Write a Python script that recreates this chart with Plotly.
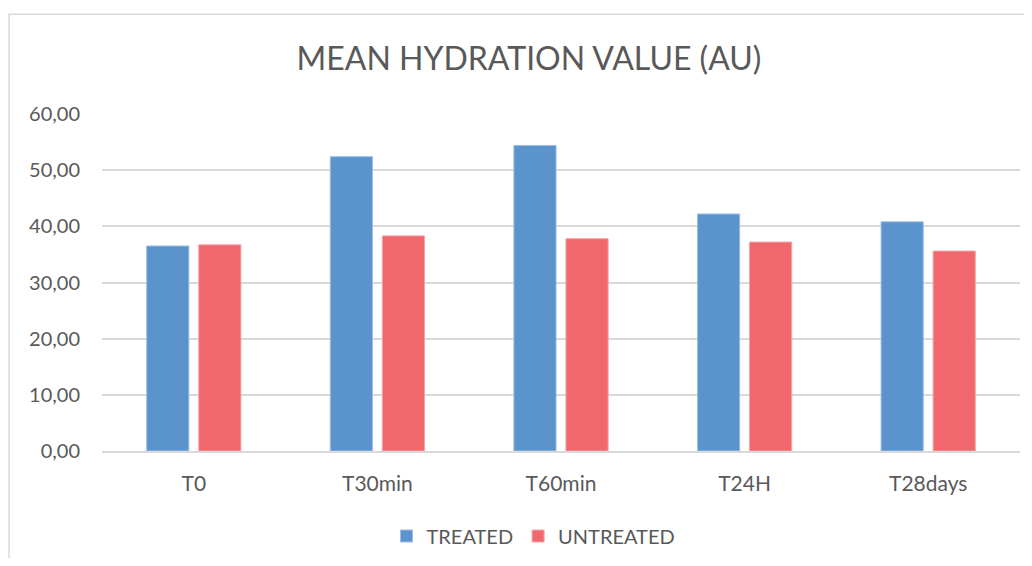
import plotly.graph_objects as go

categories = ["T0", "T30min", "T60min", "T24H", "T28days"]
treated = [36.5, 52.4, 54.4, 42.2, 40.8]
untreated = [36.7, 38.3, 37.8, 37.2, 35.6]
y_ticks = [0, 10, 20, 30, 40, 50, 60]

text_color = "#595959"
font_family = "Lato, 'Open Sans', sans-serif"

W, H = 1016, 550
L, T = 94, 106
PW, PH = 918, 338

fig = go.Figure()
fig.add_trace(go.Bar(name="TREATED", x=categories, y=treated,
                     marker=dict(color="#5B93CD", line=dict(color="#9DBEE3", width=1))))
fig.add_trace(go.Bar(name="UNTREATED", x=categories, y=untreated,
                     marker=dict(color="#F0686E", line=dict(color="#F6A3A7", width=1))))

fig.update_layout(
    width=W, height=H,
    separators=",.",
    paper_bgcolor="white", plot_bgcolor="white",
    margin=dict(l=L, r=W - L - PW, t=T, b=H - T - PH, pad=0),
    barmode="group", bargap=0.433, bargroupgap=0.19,
    font=dict(family=font_family, color=text_color),
    title=dict(text="MEAN HYDRATION VALUE (AU)", x=(521 - L) / PW, xref="paper", xanchor="center",
               y=1 - 51 / H, yanchor="middle",
               font=dict(size=32, color=text_color, family=font_family)),
    legend=dict(orientation="h", x=(525.5 - L) / PW, xanchor="center",
                y=(T + PH - 528) / PH, yanchor="middle",
                font=dict(size=20, color=text_color), itemwidth=30, traceorder="normal"),
    xaxis=dict(showgrid=False, showline=True, linecolor="#d9d9d9", linewidth=1.5,
               ticks="outside", ticklen=13, tickcolor="rgba(0,0,0,0)",
               tickfont=dict(size=21, color=text_color)),
    yaxis=dict(range=[0, 60], tickvals=y_ticks, tickformat=".2f",
               showgrid=True, gridcolor="#d9d9d9", gridwidth=1.5, zeroline=False,
               ticks="outside", ticklen=17, tickcolor="rgba(0,0,0,0)",
               tickfont=dict(size=20, color=text_color)),
    shapes=[dict(type="rect", xref="paper", yref="paper",
                 x0=(1 - L) / PW, x1=1.2, y0=-0.5, y1=(T + PH - 6) / PH,
                 line=dict(color="#d9d9d9", width=1.5), fillcolor="rgba(0,0,0,0)", layer="below")],
)

fig.write_html("out.html")
